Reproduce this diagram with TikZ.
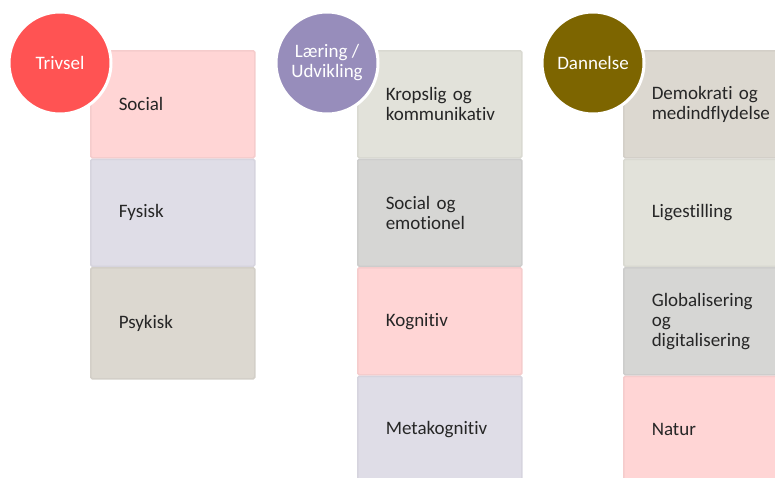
\documentclass[tikz,border=0pt]{standalone}
\usepackage{fontspec}
\setmainfont{Carlito}[Ligatures=NoCommon]
\usepackage{tikz}
\usetikzlibrary{positioning}

\definecolor{trivred}{HTML}{FF5353}
\definecolor{laerpurple}{HTML}{978DBB}
\definecolor{dannolive}{HTML}{7D6500}
\definecolor{cellpink}{HTML}{FFD5D5}
\definecolor{celllav}{HTML}{DFDDE7}
\definecolor{cellbeige}{HTML}{DCD8D0}
\definecolor{cellpale}{HTML}{E2E2DA}
\definecolor{cellgray}{HTML}{D6D6D4}

\begin{document}
\begin{tikzpicture}[
		x=1pt, y=-1pt,
		font=\fontsize{19}{20}\selectfont,
		cell/.style={
			rectangle,
			rounded corners=1.5pt,
			draw=#1!96!black,
			line width=1.5pt,
			fill=#1,
			minimum width=164pt,
			minimum height=107pt,
			text width=108pt,
			inner xsep=28pt,
			align=left,
			text=black!85
		},
		topic/.style={
			circle,
			draw=white,
			line width=3pt,
			fill=#1,
			minimum size=102pt,
			inner sep=0pt,
			align=center,
			text=white
		}
		]
		\useasboundingbox (0,0) rectangle (775,477);
		
		% Trivsel
		\node [cell=cellpink, anchor=north west] (social) at (90,50) {Social};
		\node [cell=celllav, below=0pt of social] (fysisk) {Fysisk};
		\node [cell=cellbeige, below=0pt of fysisk, minimum height=111pt] (psykisk) {Psykisk};
		
		% Laering / Udvikling
		\node [cell=cellpale, anchor=north west] (kropslig) at (357,50) {Kropslig og\\kommunikativ};
		\node [cell=cellgray, below=0pt of kropslig] (emotionel) {Social og\\emotionel};
		\node [cell=cellpink, below=0pt of emotionel] (kognitiv) {Kognitiv};
		\node [cell=celllav, below=0pt of kognitiv] (metakog) {Metakognitiv};
		
		% Dannelse
		\node [cell=cellbeige, anchor=north west] (demokrati) at (623,50) {Demokrati og\\medindflydelse};
		\node [cell=cellpale, below=0pt of demokrati] (ligestilling) {Ligestilling};
		\node [cell=cellgray, below=0pt of ligestilling] (global) {Globalisering\\og\\digitalisering};
		\node [cell=cellpink, below=0pt of global] (natur) {Natur};
		
		% circles on top
		\node [topic=trivred] (trivsel) at (60,63) {Trivsel};
		\node [topic=laerpurple] (laering) at (327,63) {Læring /\\Udvikling};
		\node [topic=dannolive] (dannelse) at (593,63) {Dannelse};
		
	\end{tikzpicture}
\end{document}
